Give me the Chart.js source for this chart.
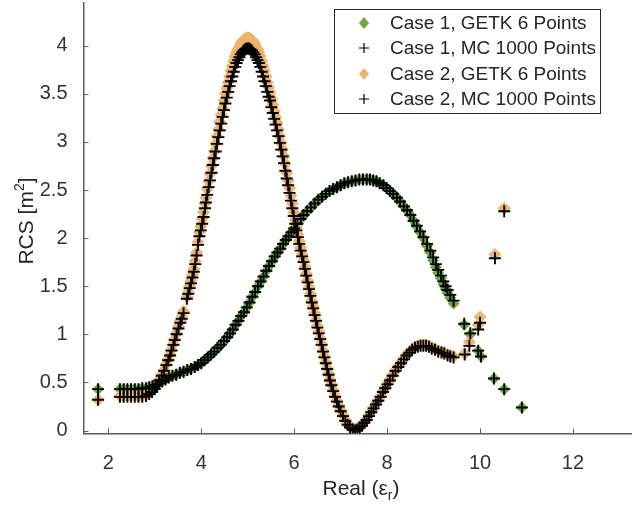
<!DOCTYPE html>
<html>
<head>
<meta charset="utf-8">
<script src="https://cdn.jsdelivr.net/npm/chart.js@4.4.1/dist/chart.umd.min.js"></script>
<style>
  html, body { margin: 0; padding: 0; background: #fff; }
  #rcsChart { display: block; }
</style>
</head>
<body>
<canvas id="rcsChart" width="632" height="505"></canvas>
<script>
// 軸の目盛り
const xTicks = [2, 4, 6, 8, 10, 12];
const yTicks = [0, 0.5, 1, 1.5, 2, 2.5, 3, 3.5, 4];

// 凡例のラベル
const seriesLabels = [
    'Case 1, GETK 6 Points',
    'Case 1, MC 1000 Points',
    'Case 2, GETK 6 Points',
    'Case 2, MC 1000 Points'
];

// Case 1: Real(εr) と RCS
const case1X = [
    1.78, 2.25, 2.33, 2.41, 2.49, 2.57, 2.65, 2.73, 2.81, 2.88,
    2.95, 3.02, 3.09, 3.16, 3.23, 3.30, 3.38, 3.46, 3.54, 3.62,
    3.70, 3.78, 3.86, 3.93, 4.00, 4.07, 4.14, 4.21, 4.28, 4.35,
    4.42, 4.49, 4.56, 4.62, 4.68, 4.74, 4.80, 4.86, 4.92, 4.98,
    5.04, 5.10, 5.16, 5.22, 5.28, 5.34, 5.40, 5.46, 5.52, 5.58,
    5.64, 5.70, 5.76, 5.82, 5.88, 5.94, 6.00, 6.07, 6.14, 6.20,
    6.28, 6.36, 6.44, 6.52, 6.60, 6.68, 6.76, 6.84, 6.92, 7.00,
    7.08, 7.16, 7.24, 7.32, 7.40, 7.48, 7.56, 7.63, 7.70, 7.77,
    7.84, 7.92, 7.99, 8.06, 8.13, 8.21, 8.28, 8.36, 8.43, 8.50,
    8.57, 8.64, 8.71, 8.78, 8.86, 8.93, 8.99, 9.05, 9.10, 9.16,
    9.21, 9.26, 9.30, 9.36, 9.43, 9.66, 9.79, 9.96, 10.02, 10.30,
    10.52, 10.90
];
const case1MC = [
    0.43, 0.43, 0.43, 0.43, 0.43, 0.43, 0.43, 0.44, 0.44, 0.45,
    0.46, 0.47, 0.49, 0.51, 0.53, 0.55, 0.57, 0.58, 0.60, 0.61,
    0.63, 0.64, 0.66, 0.68, 0.70, 0.73, 0.76, 0.79, 0.82, 0.86,
    0.89, 0.93, 0.97, 1.01, 1.05, 1.10, 1.14, 1.19, 1.23, 1.28,
    1.33, 1.39, 1.44, 1.50, 1.55, 1.60, 1.66, 1.71, 1.76, 1.81,
    1.85, 1.89, 1.94, 1.98, 2.02, 2.06, 2.10, 2.15, 2.20, 2.24,
    2.28, 2.32, 2.36, 2.40, 2.43, 2.46, 2.49, 2.51, 2.53, 2.55,
    2.57, 2.58, 2.59, 2.60, 2.61, 2.61, 2.61, 2.61, 2.60, 2.59,
    2.57, 2.55, 2.52, 2.49, 2.46, 2.42, 2.38, 2.33, 2.29, 2.24,
    2.18, 2.13, 2.07, 2.01, 1.94, 1.87, 1.80, 1.73, 1.67, 1.61,
    1.55, 1.50, 1.46, 1.41, 1.35, 1.11, 1.01, 0.83, 0.77, 0.54,
    0.43, 0.24
];
const case1GETK = [
    0.43, 0.43, 0.43, 0.43, 0.43, 0.43, 0.43, 0.44, 0.44, 0.45,
    0.46, 0.47, 0.49, 0.51, 0.53, 0.55, 0.57, 0.58, 0.60, 0.61,
    0.63, 0.64, 0.66, 0.68, 0.70, 0.73, 0.76, 0.79, 0.82, 0.86,
    0.89, 0.93, 0.97, 1.01, 1.05, 1.10, 1.14, 1.19, 1.23, 1.28,
    1.33, 1.39, 1.44, 1.50, 1.55, 1.60, 1.66, 1.71, 1.76, 1.81,
    1.85, 1.89, 1.94, 1.98, 2.02, 2.06, 2.10, 2.15, 2.20, 2.24,
    2.28, 2.32, 2.36, 2.40, 2.43, 2.46, 2.49, 2.51, 2.53, 2.55,
    2.57, 2.58, 2.59, 2.60, 2.61, 2.61, 2.61, 2.61, 2.60, 2.59,
    2.57, 2.55, 2.52, 2.49, 2.46, 2.42, 2.38, 2.33, 2.29, 2.24,
    2.18, 2.12, 2.06, 2.00, 1.92, 1.85, 1.77, 1.70, 1.64, 1.58,
    1.52, 1.47, 1.43, 1.38, 1.32, 1.10, 1.00, 0.83, 0.77, 0.54,
    0.43, 0.24
];

// Case 2: Real(εr) と RCS
const case2X = [
    1.78, 2.25, 2.33, 2.41, 2.49, 2.57, 2.65, 2.73, 2.81, 2.88,
    2.94, 3.00, 3.05, 3.10, 3.15, 3.20, 3.25, 3.29, 3.33, 3.36,
    3.40, 3.43, 3.47, 3.51, 3.55, 3.58, 3.62, 3.69, 3.72, 3.75,
    3.78, 3.81, 3.84, 3.87, 3.90, 3.93, 3.96, 3.99, 4.02, 4.05,
    4.08, 4.10, 4.13, 4.16, 4.19, 4.22, 4.25, 4.28, 4.31, 4.34,
    4.37, 4.40, 4.43, 4.46, 4.49, 4.52, 4.55, 4.58, 4.61, 4.64,
    4.67, 4.70, 4.73, 4.76, 4.79, 4.82, 4.85, 4.88, 4.91, 4.94,
    4.97, 5.00, 5.03, 5.06, 5.09, 5.12, 5.15, 5.18, 5.21, 5.24,
    5.27, 5.30, 5.33, 5.36, 5.39, 5.42, 5.45, 5.48, 5.51, 5.54,
    5.57, 5.60, 5.63, 5.66, 5.69, 5.72, 5.75, 5.78, 5.81, 5.84,
    5.87, 5.90, 5.93, 5.96, 5.99, 6.02, 6.05, 6.08, 6.11, 6.14,
    6.17, 6.20, 6.23, 6.26, 6.29, 6.32, 6.35, 6.38, 6.41, 6.44,
    6.47, 6.50, 6.53, 6.56, 6.59, 6.62, 6.65, 6.68, 6.71, 6.74,
    6.77, 6.80, 6.84, 6.88, 6.92, 6.96, 7.00, 7.05, 7.10, 7.15,
    7.20, 7.26, 7.31, 7.36, 7.41, 7.46, 7.51, 7.56, 7.61, 7.66,
    7.71, 7.76, 7.81, 7.86, 7.91, 7.96, 8.01, 8.06, 8.12, 8.18,
    8.24, 8.30, 8.36, 8.42, 8.48, 8.54, 8.60, 8.66, 8.72, 8.78,
    8.84, 8.90, 8.96, 9.03, 9.10, 9.17, 9.23, 9.30, 9.36, 9.43,
    9.67, 9.77, 9.96, 10.00, 10.32, 10.52
];
const case2MC = [
    0.32, 0.35, 0.35, 0.35, 0.35, 0.35, 0.35, 0.35, 0.36, 0.38,
    0.40, 0.43, 0.47, 0.52, 0.57, 0.62, 0.68, 0.73, 0.78, 0.83,
    0.89, 0.94, 1.00, 1.06, 1.12, 1.16, 1.22, 1.37, 1.42, 1.48,
    1.53, 1.59, 1.65, 1.73, 1.82, 1.93, 2.02, 2.08, 2.15, 2.22,
    2.31, 2.37, 2.45, 2.53, 2.60, 2.68, 2.76, 2.83, 2.90, 2.98,
    3.05, 3.12, 3.19, 3.26, 3.33, 3.40, 3.46, 3.52, 3.58, 3.63,
    3.68, 3.73, 3.78, 3.82, 3.85, 3.88, 3.91, 3.93, 3.95, 3.96,
    3.97, 3.97, 3.97, 3.96, 3.95, 3.93, 3.91, 3.88, 3.85, 3.82,
    3.78, 3.73, 3.68, 3.63, 3.58, 3.52, 3.47, 3.43, 3.36, 3.30,
    3.24, 3.18, 3.12, 3.06, 2.99, 2.92, 2.85, 2.78, 2.70, 2.62,
    2.55, 2.47, 2.39, 2.31, 2.23, 2.15, 2.08, 2.01, 1.94, 1.87,
    1.81, 1.75, 1.68, 1.61, 1.54, 1.47, 1.40, 1.33, 1.27, 1.20,
    1.14, 1.07, 1.01, 0.95, 0.89, 0.82, 0.76, 0.70, 0.64, 0.58,
    0.52, 0.47, 0.41, 0.35, 0.30, 0.25, 0.20, 0.15, 0.10, 0.06,
    0.03, 0.01, 0.00, 0.01, 0.03, 0.05, 0.08, 0.11, 0.15, 0.19,
    0.23, 0.27, 0.31, 0.35, 0.40, 0.44, 0.48, 0.52, 0.57, 0.62,
    0.66, 0.70, 0.74, 0.78, 0.81, 0.84, 0.86, 0.87, 0.88, 0.88,
    0.88, 0.87, 0.85, 0.84, 0.82, 0.81, 0.80, 0.78, 0.77, 0.76,
    0.79, 0.88, 1.05, 1.12, 1.79, 2.28
];
const case2GETK = [
    0.32, 0.36, 0.36, 0.36, 0.36, 0.36, 0.36, 0.36, 0.37, 0.39,
    0.41, 0.44, 0.48, 0.53, 0.58, 0.63, 0.69, 0.74, 0.79, 0.84,
    0.90, 0.95, 1.01, 1.08, 1.14, 1.18, 1.24, 1.39, 1.44, 1.50,
    1.56, 1.62, 1.68, 1.76, 1.85, 1.96, 2.06, 2.12, 2.20, 2.27,
    2.36, 2.42, 2.51, 2.59, 2.67, 2.75, 2.83, 2.90, 2.98, 3.06,
    3.13, 3.21, 3.28, 3.35, 3.43, 3.50, 3.56, 3.62, 3.68, 3.74,
    3.79, 3.84, 3.89, 3.93, 3.96, 3.99, 4.02, 4.04, 4.06, 4.07,
    4.08, 4.08, 4.08, 4.07, 4.06, 4.04, 4.02, 3.99, 3.96, 3.93,
    3.89, 3.84, 3.79, 3.74, 3.68, 3.62, 3.57, 3.52, 3.45, 3.39,
    3.32, 3.26, 3.20, 3.13, 3.06, 2.99, 2.92, 2.85, 2.77, 2.68,
    2.60, 2.52, 2.44, 2.36, 2.27, 2.19, 2.11, 2.04, 1.97, 1.90,
    1.83, 1.77, 1.70, 1.63, 1.56, 1.49, 1.42, 1.35, 1.29, 1.22,
    1.15, 1.09, 1.03, 0.96, 0.90, 0.83, 0.77, 0.71, 0.65, 0.59,
    0.53, 0.48, 0.42, 0.36, 0.31, 0.26, 0.21, 0.16, 0.11, 0.07,
    0.04, 0.02, 0.01, 0.02, 0.04, 0.06, 0.09, 0.12, 0.16, 0.20,
    0.24, 0.28, 0.32, 0.36, 0.41, 0.45, 0.49, 0.53, 0.58, 0.63,
    0.67, 0.71, 0.75, 0.79, 0.82, 0.85, 0.87, 0.88, 0.89, 0.89,
    0.89, 0.88, 0.86, 0.85, 0.83, 0.82, 0.81, 0.79, 0.78, 0.77,
    0.80, 0.92, 1.10, 1.18, 1.83, 2.31
];

const GREEN = '#70a83c';
const ORANGE = '#eeb46e';
const INK = '#262626';
const AXIS = '#5c5c5c';
const FONT = '"Liberation Sans", Arial, Helvetica, sans-serif';

function toPoints(xs, ys) {
    return xs.map((x, i) => ({ x: x, y: ys[i] }));
}

// 凡例・軸ラベル・内向きの目盛り線
const decorPlugin = {
    id: 'decor',
    afterDraw(chart) {
        const ctx = chart.ctx;
        const xs = chart.scales.x;
        const ys = chart.scales.y;
        const area = chart.chartArea;
        ctx.save();

        // 内向きの目盛り
        ctx.strokeStyle = AXIS;
        ctx.lineWidth = 1;
        ctx.beginPath();
        xTicks.forEach(v => {
            const px = Math.round(xs.getPixelForValue(v)) + 0.5;
            ctx.moveTo(px, area.bottom);
            ctx.lineTo(px, area.bottom - 5);
        });
        yTicks.forEach(v => {
            const py = Math.round(ys.getPixelForValue(v)) + 0.5;
            ctx.moveTo(area.left, py);
            ctx.lineTo(area.left + 5, py);
        });
        ctx.stroke();

        // x軸ラベル Real (εr)
        ctx.fillStyle = INK;
        ctx.textBaseline = 'alphabetic';
        ctx.textAlign = 'left';
        const big = '21px ' + FONT;
        const small = '14px ' + FONT;
        ctx.font = big;
        const w1 = ctx.measureText('Real (ε').width;
        const w3 = ctx.measureText(')').width;
        ctx.font = small;
        const w2 = ctx.measureText('r').width;
        let x0 = 361 - (w1 + w2 + w3) / 2;
        const base = 495;
        ctx.font = big;
        ctx.fillText('Real (ε', x0, base);
        ctx.font = small;
        ctx.fillText('r', x0 + w1, base + 5);
        ctx.font = big;
        ctx.fillText(')', x0 + w1 + w2, base);

        // y軸ラベル RCS [m2]
        ctx.save();
        ctx.translate(33, 221);
        ctx.rotate(-Math.PI / 2);
        ctx.font = big;
        const v1 = ctx.measureText('RCS [m').width;
        const v3 = ctx.measureText(']').width;
        ctx.font = small;
        const v2 = ctx.measureText('2').width;
        let y0 = -(v1 + v2 + v3) / 2;
        ctx.font = big;
        ctx.fillText('RCS [m', y0, 0);
        ctx.font = small;
        ctx.fillText('2', y0 + v1, -9);
        ctx.font = big;
        ctx.fillText(']', y0 + v1 + v2, 0);
        ctx.restore();

        // 凡例
        const bx = 334.5, by = 9.5, bw = 266, bh = 104;
        ctx.fillStyle = '#ffffff';
        ctx.fillRect(bx, by, bw, bh);
        ctx.strokeStyle = INK;
        ctx.lineWidth = 1;
        ctx.strokeRect(bx, by, bw, bh);
        const rowY = [23, 48, 74, 99];
        const mx = 364;
        seriesLabels.forEach((label, i) => {
            const yy = rowY[i];
            const ds = chart.data.datasets[i];
            if (ds.pointStyle === 'rectRot') {
                ctx.fillStyle = ds.backgroundColor;
                ctx.beginPath();
                ctx.moveTo(mx, yy - 6);
                ctx.lineTo(mx + 5, yy);
                ctx.lineTo(mx, yy + 6);
                ctx.lineTo(mx - 5, yy);
                ctx.closePath();
                ctx.fill();
            } else {
                ctx.strokeStyle = ds.borderColor;
                ctx.lineWidth = 1.2;
                ctx.beginPath();
                ctx.moveTo(mx - 5, yy);
                ctx.lineTo(mx + 5, yy);
                ctx.moveTo(mx, yy - 5);
                ctx.lineTo(mx, yy + 5);
                ctx.stroke();
            }
            ctx.fillStyle = INK;
            ctx.font = '19px ' + FONT;
            ctx.textBaseline = 'middle';
            ctx.fillText(label, 390, yy + 1);
        });
        ctx.restore();
    }
};

let rcsCtx = document.getElementById('rcsChart').getContext('2d');

let rcsChart = new Chart(rcsCtx, {
    type: 'scatter',
    data: {
        datasets: [
            {
                label: seriesLabels[0],
                data: toPoints(case1X, case1GETK),
                pointStyle: 'rectRot',
                pointRadius: 6,
                backgroundColor: GREEN,
                borderColor: GREEN,
                borderWidth: 0,
                order: 4
            },
            {
                label: seriesLabels[1],
                data: toPoints(case1X, case1MC),
                pointStyle: 'cross',
                pointRadius: 6,
                borderColor: '#000000',
                borderWidth: 1.9,
                order: 2
            },
            {
                label: seriesLabels[2],
                data: toPoints(case2X, case2GETK),
                pointStyle: 'rectRot',
                pointRadius: 6.5,
                backgroundColor: ORANGE,
                borderColor: ORANGE,
                borderWidth: 0,
                order: 3
            },
            {
                label: seriesLabels[3],
                data: toPoints(case2X, case2MC),
                pointStyle: 'cross',
                pointRadius: 6,
                borderColor: '#000000',
                borderWidth: 1.9,
                order: 1
            }
        ]
    },
    options: {
        responsive: false,
        animation: false,
        events: [],
        layout: { autoPadding: false, padding: { top: 3, left: 0, right: 0, bottom: 0 } },
        scales: {
            x: {
                type: 'linear',
                min: 1.466,
                max: 13.27,
                afterBuildTicks: s => { s.ticks = xTicks.map(v => ({ value: v })); },
                afterFit: s => {
                    s.height = 71.5;
                    s.paddingLeft = 0;
                    s.paddingRight = 0;
                },
                grid: { display: false },
                border: { display: true, color: AXIS, width: 1.5 },
                ticks: {
                    font: { family: FONT, size: 20 },
                    color: '#333333',
                    padding: 10,
                    maxRotation: 0,
                    callback: v => String(v)
                }
            },
            y: {
                type: 'linear',
                min: -0.031,
                max: 4.444,
                afterBuildTicks: s => { s.ticks = yTicks.map(v => ({ value: v })); },
                afterFit: s => {
                    s.width = 83.5;
                    s.paddingTop = 0;
                    s.paddingBottom = 0;
                },
                grid: { display: false },
                border: { display: true, color: AXIS, width: 1.5 },
                ticks: {
                    font: { family: FONT, size: 20 },
                    color: '#333333',
                    padding: 8,
                    callback: v => String(v)
                }
            }
        },
        plugins: {
            legend: { display: false },
            tooltip: { enabled: false }
        }
    },
    plugins: [decorPlugin]
});
</script>
</body>
</html>
